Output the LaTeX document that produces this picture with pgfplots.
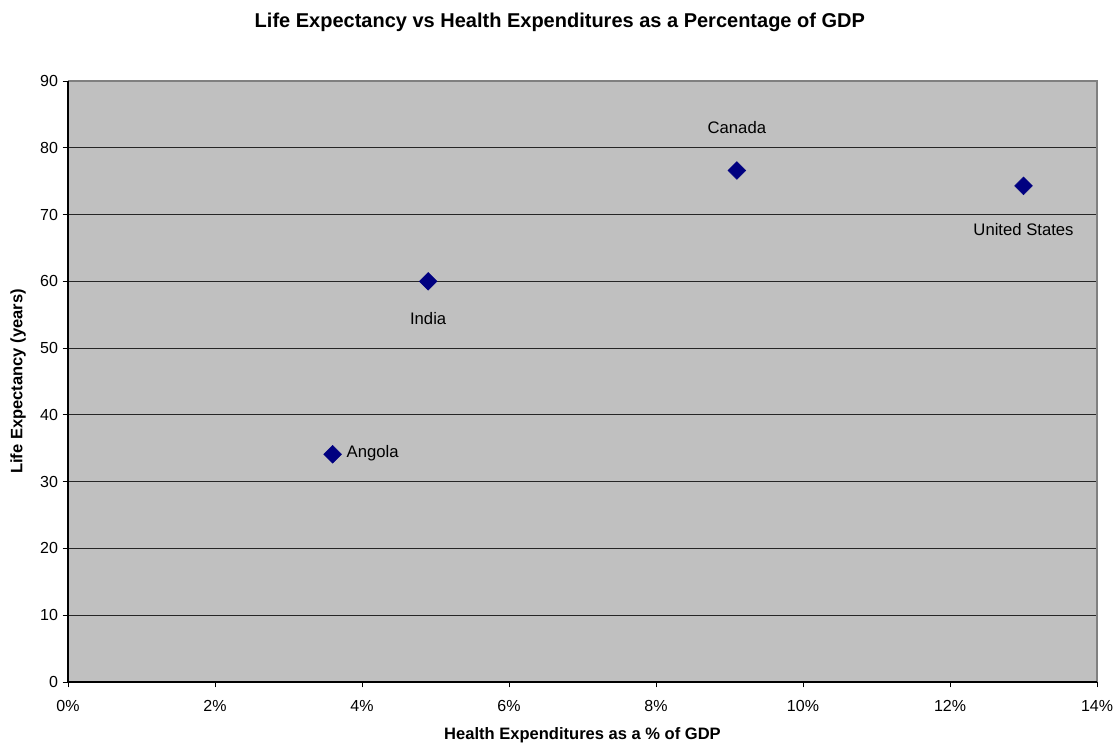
\documentclass[border=0pt]{standalone}
\usepackage{pgfplots}
\pgfplotsset{compat=1.18}
\usepackage{fontspec}
\setmainfont{Liberation Sans}
\definecolor{plotbg}{HTML}{C0C0C0}
\definecolor{navymark}{HTML}{000080}
\begin{document}
\begin{tikzpicture}
\useasboundingbox (-51pt,-46.5pt) rectangle (786pt,511.5pt);
\begin{axis}[
  at={(0,0)}, anchor=south west,
  scale only axis,
  width=771.75pt, height=450.75pt,
  xmin=0, xmax=14, ymin=0, ymax=90,
  xtick={0,2,...,14}, ytick={0,10,...,90},
  xticklabel={\pgfmathprintnumber{\tick}\%},
  /pgf/number format/assume math mode=true,
  tick label style={font=\fontsize{12pt}{14pt}\selectfont},
  xticklabel style={yshift=-6pt},
  ymajorgrids,
  grid style={black!85, line width=0.6pt},
  axis background/.style={fill=plotbg},
  axis line style={draw=none},
  tick align=outside,
  tick style={black, line width=0.6pt},
  major tick length=4pt,
  xtick pos=bottom, ytick pos=left,
  xlabel={\bfseries Health Expenditures as a \% of GDP},
  ylabel={\bfseries Life Expectancy (years)},
  label style={font=\fontsize{12.4pt}{14pt}\selectfont},
  xlabel style={at={(axis description cs:0.5,-0.088)}, anchor=center},
  ylabel style={at={(axis description cs:-0.0486,0.5)}, anchor=center},
  title={\bfseries Life Expectancy vs Health Expenditures as a Percentage of GDP},
  title style={font=\fontsize{15pt}{17pt}\selectfont, at={(axis description cs:0.478,1.085)}, anchor=center},
  clip=false,
]
\draw[gray!100, line width=0.8pt] (axis cs:0,90) -- (axis cs:14,90) -- (axis cs:14,0);
\draw[black, line width=0.8pt] (axis cs:0,90) -- (axis cs:0,0) -- (axis cs:14,0);
\addplot[only marks, mark=square*, mark size=4.7pt, color=navymark, mark options={rotate=45, fill=navymark, draw=navymark}]
  coordinates {(3.6,34.1) (4.9,60.0) (9.1,76.6) (13.0,74.3)};
\node[anchor=west, font=\fontsize{12.5pt}{14pt}\selectfont] at (axis cs:3.6,34.1) [xshift=7pt,yshift=1pt] {Angola};
\node[font=\fontsize{12.5pt}{14pt}\selectfont] at (axis cs:4.9,54.5) {India};
\node[font=\fontsize{12.5pt}{14pt}\selectfont] at (axis cs:9.1,83.1) {Canada};
\node[font=\fontsize{12.5pt}{14pt}\selectfont] at (axis cs:13.0,67.8) {United States};
\end{axis}
\end{tikzpicture}
\end{document}
